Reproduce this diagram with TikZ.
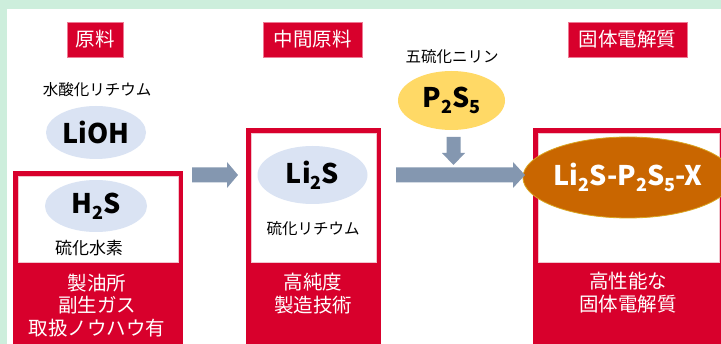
\documentclass[tikz,border=0pt]{standalone}
\usepackage{fontspec}
\setmainfont{Noto Sans CJK JP}
\usetikzlibrary{shapes.geometric}
\definecolor{bggreen}{HTML}{CDEEDC}
\definecolor{mainred}{HTML}{D8002C}
\definecolor{tagborder}{HTML}{EE7A94}
\definecolor{inborder}{HTML}{F2C4CE}
\definecolor{lightblue}{HTML}{DAE3F3}
\definecolor{pyellow}{HTML}{FFD966}
\definecolor{porange}{HTML}{C96600}
\definecolor{pgold}{HTML}{D9A520}
\definecolor{arrowc}{HTML}{8497B0}
\newcommand{\chsub}[1]{\raisebox{-0.4ex}{\fontsize{18}{18}\selectfont #1}}
\tikzset{
  tag/.style={fill=mainred, draw=tagborder, line width=0.8pt, text=white, inner sep=0pt,
    minimum height=35, font=\fontsize{19.5}{19.5}\selectfont},
  ell/.style={ellipse, inner sep=0pt, font=\fontsize{27}{27}\selectfont\bfseries},
  blueell/.style={ell, fill=lightblue},
  small/.style={font=\fontsize{15.5}{15.5}\selectfont, inner sep=0pt},
  bottomtxt/.style={text=white, align=center, inner sep=0pt, font=\fontsize{19.5}{22.5}\selectfont},
  redbox/.style={fill=mainred},
  inbox/.style={fill=white, draw=inborder, line width=0.6pt},
  blockarrow/.style={fill=arrowc}
}
\begin{document}
\begin{tikzpicture}[x=1pt,y=-1pt]
\fill[bggreen] (0,0) rectangle (721,344);
\fill[white] (7,9) rectangle (721,344);
\useasboundingbox (0,0) rectangle (721,344);

% tags
\node[tag, minimum width=56] (t1) at (95,39.5) {原料};
\node[tag, minimum width=99] (t2) at (312.5,39.5) {中間原料};
\node[tag, minimum width=119] (t3) at (627.5,39.5) {固体電解質};

% red boxes
\fill[redbox] (13,171) rectangle (183,344);
\draw[inbox] (18,176) rectangle (178,262);
\fill[redbox] (246,128) rectangle (381,344);
\draw[inbox] (251,133) rectangle (376,262);
\fill[redbox] (533,128) rectangle (721,344);
\draw[inbox] (538,133) rectangle (719,262);

% column 1
\node[small] (lab1) at (97,90) {水酸化リチウム};
\node[blueell, minimum width=100, minimum height=53] (lioh) at (96,132.5) {LiOH};
\node[blueell, minimum width=102, minimum height=52] (h2s) at (96,206) {H\chsub{2}S};
\node[small, font=\fontsize{17}{17}\selectfont] (lab2) at (89,248) {硫化水素};
\node[bottomtxt] (b1) at (97,305.5) {製油所\\副生ガス\\取扱ノウハウ有};

% column 2
\node[blueell, minimum width=110, minimum height=58] (li2s) at (312.5,175) {Li\chsub{2}S};
\node[small] (lab3) at (313,229) {硫化リチウム};
\node[bottomtxt] (b2) at (313,293.5) {高純度\\製造技術};

% P2S5
\node[small] (lab4) at (452,57) {五硫化ニリン};
\node[ell, fill=pyellow, minimum width=107, minimum height=59] (p2s5) at (451.5,100.5) {P\chsub{2}S\chsub{5}};

% column 3
\node[ell, fill=porange, draw=pgold, line width=0.8pt, text=white, minimum width=178, minimum height=81] (sse) at (628,177.5) {Li\chsub{2}S-P\chsub{2}S\chsub{5}-X};
\node[bottomtxt] (b3) at (628,292.5) {高性能な\\固体電解質};

% arrows
\fill[blockarrow] (192,167.5) -- (227,167.5) -- (227,162) -- (238,175) -- (227,188) -- (227,182.5) -- (192,182.5) -- cycle;
\fill[blockarrow] (396,167.5) -- (513,167.5) -- (513,162) -- (525,175) -- (513,188) -- (513,182.5) -- (396,182.5) -- cycle;
\fill[blockarrow] (446.5,137) -- (460.5,137) -- (460.5,153) -- (465,153) -- (453.5,165) -- (442,153) -- (446.5,153) -- cycle;
\end{tikzpicture}
\end{document}
